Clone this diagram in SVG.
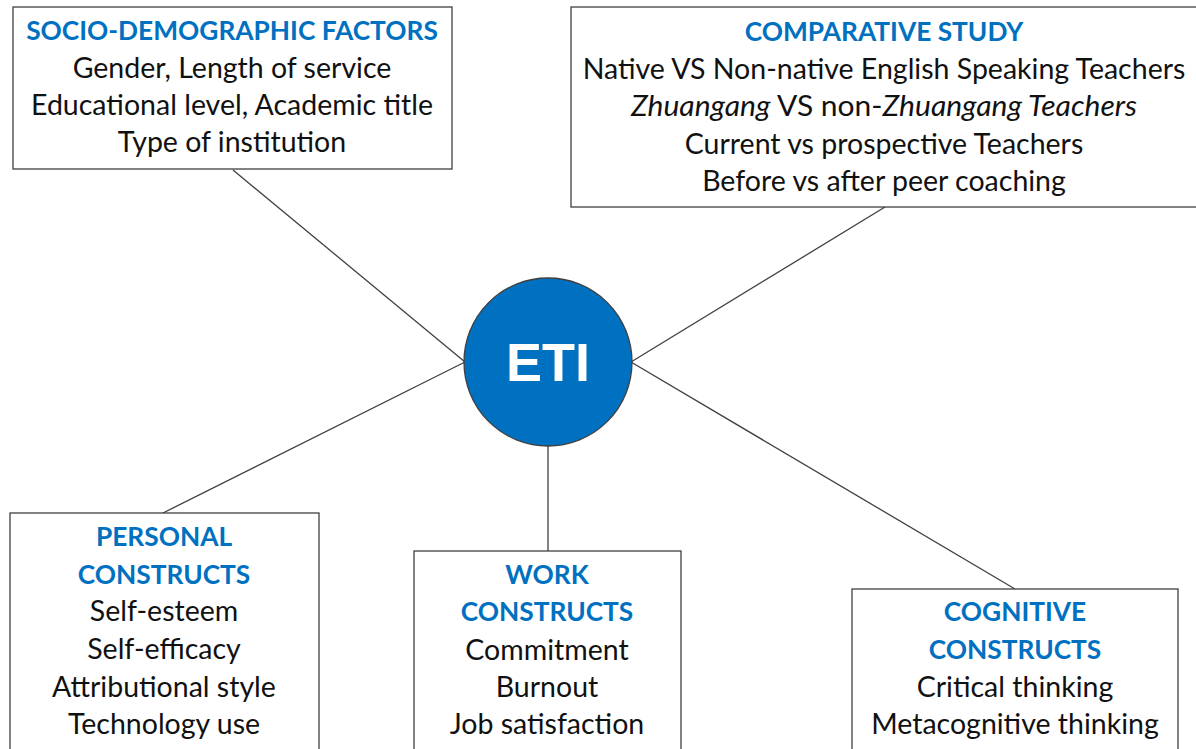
<svg xmlns="http://www.w3.org/2000/svg" width="1196" height="749" viewBox="0 0 1196 749">
  <style>
    .box { fill: #ffffff; stroke: #404040; stroke-width: 1.3; }
    .link { stroke: #404040; stroke-width: 1.3; fill: none; }
    text { font-family: "Lato", "Open Sans", sans-serif; font-size: 28.5px; text-anchor: middle; fill: #111111; }
    .head { font-size: 26.3px; font-weight: bold; fill: #0070C0; }
    .it { font-style: italic; }
    .hub { font-family: "Liberation Sans", Arial, sans-serif; font-weight: bold; font-size: 54px; fill: #ffffff; }
  </style>
  <rect width="1196" height="749" fill="#ffffff"/>

  <g id="connectors">
    <line class="link" x1="233" y1="170" x2="465" y2="362"/>
    <line class="link" x1="885" y1="207" x2="631" y2="362"/>
    <line class="link" x1="465" y1="362" x2="163" y2="513"/>
    <line class="link" x1="548" y1="446" x2="548" y2="551"/>
    <line class="link" x1="631" y1="362" x2="1015" y2="589"/>
  </g>

  <g id="socio-demographic">
    <rect class="box" x="13" y="7" width="439" height="162"/>
    <text class="head" x="232" y="40">SOCIO-DEMOGRAPHIC FACTORS</text>
    <text x="232" y="78">Gender, Length of service</text>
    <text x="232" y="115">Educational level, Academic title</text>
    <text x="232" y="152">Type of institution</text>
  </g>

  <g id="comparative-study">
    <rect class="box" x="571" y="7" width="630" height="200"/>
    <text class="head" x="884" y="41">COMPARATIVE STUDY</text>
    <text x="884" y="79">Native VS Non-native English Speaking Teachers</text>
    <text x="884" y="116" textLength="506" lengthAdjust="spacingAndGlyphs"><tspan class="it">Zhuangang</tspan> VS non-<tspan class="it">Zhuangang Teachers</tspan></text>
    <text x="884" y="154">Current vs prospective Teachers</text>
    <text x="884" y="191">Before vs after peer coaching</text>
  </g>

  <g id="eti">
    <circle cx="548" cy="362" r="84" fill="#0070C0" stroke="#404040" stroke-width="1.3"/>
    <text class="hub" x="548" y="381">ETI</text>
  </g>

  <g id="personal-constructs">
    <rect class="box" x="10" y="513" width="309" height="250"/>
    <text class="head" x="164" y="546">PERSONAL</text>
    <text class="head" x="164" y="584">CONSTRUCTS</text>
    <text x="164" y="621">Self-esteem</text>
    <text x="164" y="659">Self-efficacy</text>
    <text x="164" y="697">Attributional style</text>
    <text x="164" y="734">Technology use</text>
  </g>

  <g id="work-constructs">
    <rect class="box" x="414" y="551" width="267" height="212"/>
    <text class="head" x="547" y="584">WORK</text>
    <text class="head" x="547" y="621">CONSTRUCTS</text>
    <text x="547" y="660">Commitment</text>
    <text x="547" y="697">Burnout</text>
    <text x="547" y="734">Job satisfaction</text>
  </g>

  <g id="cognitive-constructs">
    <rect class="box" x="852" y="589" width="326" height="174"/>
    <text class="head" x="1015" y="621">COGNITIVE</text>
    <text class="head" x="1015" y="659">CONSTRUCTS</text>
    <text x="1015" y="697">Critical thinking</text>
    <text x="1015" y="734">Metacognitive thinking</text>
  </g>
</svg>
